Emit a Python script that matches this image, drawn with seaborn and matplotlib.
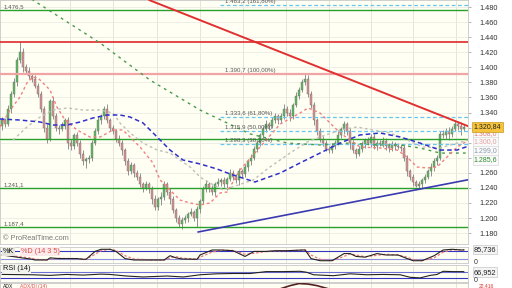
import matplotlib
matplotlib.use("Agg")
import matplotlib.pyplot as plt
import numpy as np
import pandas as pd
import seaborn as sns

sns.set_theme(style="white")
plt.rcParams['font.family'] = ['Liberation Sans', 'DejaVu Sans']

# ---------------- data ----------------
closes = [1.330, 1.325, 1.345, 1.365, 1.380, 1.410, 1.420, 1.400, 1.395, 1.388,
          1.385, 1.375, 1.365, 1.345, 1.320, 1.305, 1.355, 1.335, 1.320, 1.318,
          1.322, 1.330, 1.300, 1.295, 1.310, 1.300, 1.285, 1.275, 1.278, 1.280,
          1.300, 1.315, 1.330, 1.335, 1.345, 1.330, 1.320, 1.315, 1.305, 1.300,
          1.290, 1.275, 1.262, 1.270, 1.260, 1.255, 1.245, 1.240, 1.245, 1.238,
          1.225, 1.215, 1.225, 1.228, 1.245, 1.235, 1.225, 1.210, 1.200, 1.192,
          1.198, 1.200, 1.205, 1.208, 1.200, 1.212, 1.222, 1.238, 1.245, 1.240,
          1.235, 1.245, 1.248, 1.250, 1.245, 1.252, 1.260, 1.255, 1.250, 1.262,
          1.258, 1.268, 1.275, 1.280, 1.292, 1.300, 1.310, 1.318, 1.325, 1.322,
          1.330, 1.335, 1.330, 1.335, 1.345, 1.340, 1.335, 1.350, 1.362, 1.370,
          1.380, 1.385, 1.365, 1.350, 1.330, 1.315, 1.305, 1.300, 1.292, 1.290,
          1.296, 1.300, 1.310, 1.318, 1.325, 1.315, 1.300, 1.290, 1.285, 1.292,
          1.298, 1.303, 1.300, 1.308, 1.295, 1.300, 1.298, 1.302, 1.296, 1.293,
          1.298, 1.295, 1.294, 1.293, 1.280, 1.262, 1.255, 1.248, 1.242, 1.245,
          1.250, 1.255, 1.262, 1.268, 1.275, 1.280, 1.312, 1.310, 1.315, 1.312,
          1.318, 1.325, 1.322, 1.318, 1.32084]
first_open = 1.322
# wick lengths in thousandths
wick_up = [4, 3, 5, 4, 6, 3, 13, 5, 4, 6,
           3, 5, 4, 4, 3, 5, 3, 6, 4, 3,
           5, 3, 4, 5, 3, 4, 3, 5, 3, 4,
           3, 4, 5, 3, 4, 6, 3, 4, 3, 5,
           4, 3, 5, 4, 3, 4, 5, 3, 4, 3,
           4, 5, 3, 6, 4, 3, 5, 4, 3, 4,
           3, 4, 3, 5, 3, 4, 3, 4, 5, 3,
           4, 3, 5, 3, 4, 3, 5, 4, 3, 4,
           3, 4, 3, 5, 3, 4, 3, 4, 5, 3,
           4, 5, 3, 4, 6, 3, 4, 3, 5, 4,
           4, 6, 5, 3, 4, 3, 5, 4, 3, 4,
           3, 4, 5, 3, 4, 3, 5, 4, 3, 4,
           4, 3, 5, 4, 3, 4, 3, 5, 4, 3,
           4, 3, 4, 3, 5, 4, 3, 4, 3, 4,
           3, 4, 3, 5, 4, 3, 3, 5, 4, 6,
           4, 5, 4, 6, 3]
wick_dn = [5, 4, 3, 6, 4, 5, 4, 6, 3, 4,
           4, 3, 5, 4, 6, 5, 3, 4, 5, 6,
           3, 4, 8, 5, 4, 5, 6, 4, 8, 5,
           4, 3, 4, 5, 3, 4, 5, 3, 4, 5,
           6, 4, 5, 3, 6, 5, 4, 6, 3, 5,
           6, 4, 5, 8, 4, 5, 6, 4, 5, 4,
           6, 4, 5, 3, 4, 12, 5, 4, 3, 5,
           4, 6, 3, 5, 4, 8, 3, 5, 4, 6,
           4, 3, 5, 4, 3, 5, 4, 3, 4, 5,
           3, 4, 5, 4, 3, 5, 6, 4, 3, 4,
           3, 4, 5, 4, 6, 5, 4, 5, 3, 4,
           4, 5, 3, 4, 6, 5, 8, 4, 5, 3,
           4, 5, 3, 6, 4, 5, 3, 4, 6, 5,
           4, 5, 3, 4, 5, 6, 4, 5, 1, 4,
           5, 4, 3, 6, 5, 4, 3, 4, 5, 9,
           4, 3, 5, 8, 3]

# moving averages (vertices: candle index, price)
ma_red_x = [-0.7, 2.7, 6, 8.3, 10.3, 12, 16, 18.3, 21, 25, 29.3, 32.7, 37, 40.3, 46, 50.3,
            52.7, 56, 59.3, 62.7, 66, 69.3, 72.7, 75, 79.3, 86, 92.7, 99.3, 102, 106,
            109.3, 112.7, 116, 119.3, 126, 131.7, 135, 138.3, 141.7, 145, 148.3, 151.7, 155.5]
ma_red_y = [1.3208, 1.3433, 1.3606, 1.3791, 1.3871, 1.3858, 1.3699, 1.3473, 1.3300, 1.3168,
            1.3075, 1.3075, 1.3168, 1.3168, 1.2942, 1.2730, 1.2504, 1.2372, 1.2239, 1.2199,
            1.2173, 1.2199, 1.2332, 1.2345, 1.2637, 1.2942, 1.3247, 1.3393, 1.3460, 1.3393,
            1.3261, 1.3128, 1.3035, 1.2942, 1.2929, 1.2902, 1.2809, 1.2677, 1.2664, 1.2677,
            1.2809, 1.2942, 1.3035]
ma_grey_x = [3.7, 8.3, 12.7, 17, 21.7, 27, 32.7, 37, 39.3, 42.7, 47, 51.7, 56, 59.3, 62.7,
             66, 69.3, 73.7, 83.7, 89.3, 96, 101.7, 106, 112.7, 118.3, 123.7, 129.3, 135,
             140.3, 146, 151.7, 155.5]
ma_grey_y = [1.3035, 1.3208, 1.3340, 1.3433, 1.3460, 1.3433, 1.3433, 1.3393, 1.3261, 1.3128,
             1.2995, 1.2902, 1.2862, 1.2769, 1.2677, 1.2544, 1.2464, 1.2372, 1.2504, 1.2677,
             1.2862, 1.3009, 1.3075, 1.3168, 1.3208, 1.3168, 1.3128, 1.3035, 1.2942, 1.2929,
             1.2995, 1.3035]
ma_blue_x = [-0.7, 6, 12.7, 17, 21.7, 26, 30.3, 35, 39.3, 42.7, 47, 51.7, 56, 60.3, 66,
             71.7, 76, 84.3, 92.7, 99.3, 106, 112.7, 119.3, 126, 132.7, 139.3, 146, 151.7, 155.5]
ma_blue_y = [1.3314, 1.3300, 1.3274, 1.3234, 1.3234, 1.3274, 1.3327, 1.3367, 1.3367, 1.3340,
             1.3261, 1.3075, 1.2902, 1.2770, 1.2717, 1.2650, 1.2584, 1.2478, 1.2597, 1.2730,
             1.2862, 1.2995, 1.3102, 1.3128, 1.3075, 1.2995, 1.2902, 1.2902, 1.2955]
ma_green_x = [2.7, 10.3, 32.7, 49.3, 66, 82.7, 95, 106, 116, 126, 132.7, 139.3, 146, 155.5]
ma_green_y = [1.5159, 1.4893, 1.4322, 1.3831, 1.3433, 1.3115, 1.2995, 1.2969, 1.2995, 1.2969,
              1.2969, 1.2929, 1.2862, 1.2862]

# horizontal levels
green_levels = [1.4760, 1.3055, 1.2398, 1.1874]
red_level = 1.4340
fib_100 = 1.3907
fib_levels = [1.4832, 1.3336, 1.3159, 1.2983]
fib_labels = ["1.483,2 (161,80%)", "1.390,7 (100,00%)", "1.333,6 (61,80%)",
              "1.315,9 (50,00%)", "1.298,3 (38,20%)"]
fib_label_y = [1.4832, 1.3907, 1.3336, 1.3159, 1.2983]
left_labels = ["1.476,5", "1.241,1", "1.187,4"]
left_label_y = [1.4760, 1.2398, 1.1874]

# trend lines (endpoints)
trend_red_x = [49.0, 156.7]
trend_red_y = [1.4893, 1.3197]
trend_blue_x = [65.3, 156.7]
trend_blue_y = [1.1814, 1.2518]

# right axis ticks
price_ticks = [1.180, 1.200, 1.220, 1.240, 1.260, 1.280, 1.300, 1.320, 1.340, 1.360,
               1.380, 1.400, 1.420, 1.440, 1.460, 1.480]
hidden_ticks = [1.280, 1.300, 1.320]
value_boxes = [("1.308,0", 1.3115, '#e08080'), ("1.300,0", 1.3009, '#e0a0a0'),
               ("1.299,0", 1.2889, '#8899aa'), ("1.285,6", 1.2770, '#2a8a2a')]

# stochastic
stoch_x = [0, 10, 11, 15, 16, 19, 25, 27, 28, 31, 33, 36, 38, 41, 44, 50, 54, 56, 58, 60,
           65, 66, 70, 73, 77, 81, 84, 88, 91, 95, 100, 101, 103, 106, 110, 114, 116, 118,
           121, 125, 128, 132, 135, 137, 140, 144, 147, 150, 153, 154]
stoch_k = [50, 20, 15, 15, 30, 25, 25, 20, 20, 75, 90, 90, 75, 25, 15, 15, 15, 45, 30, 22,
           20, 50, 85, 85, 80, 40, 75, 75, 80, 80, 85, 85, 25, 10, 10, 60, 60, 40,
           35, 60, 50, 50, 25, 10, 10, 45, 85, 90, 85, 85.7]
stoch_d = [52, 28, 20, 16, 22, 27, 25, 23, 20, 55, 80, 90, 82, 45, 22, 15, 15, 30, 38, 28,
           21, 35, 70, 84, 82, 55, 62, 74, 78, 80, 83, 86, 50, 20, 11, 40, 58, 50,
           38, 48, 55, 50, 35, 18, 11, 30, 70, 86, 87, 86]
stoch_lines = [80, 20]

# RSI
rsi_x = [0, 10, 16, 21.5, 27, 33, 36, 41.5, 47, 55, 60.5, 66, 71.5, 77, 82.7, 88, 93.8,
         99.3, 101.5, 103.8, 110.4, 116, 121.6, 127, 132.7, 136, 139.3, 142.7, 145, 147,
         150.4, 153.8, 154]
rsi_v = [52, 50, 46, 52, 48, 54, 52, 42, 36, 42, 36, 50, 56, 58, 58, 70, 70,
         72, 66, 50, 44, 56, 50, 52, 50, 34, 30, 46, 52, 72, 70, 70, 67]
rsi_lines = [70, 30]

# ADX (only the top edge is visible)
adx_x = [0, 40, 90, 96, 99, 102, 105, 112, 154]
adx_v = [12, 14, 16, 27, 31, 30, 27, 16, 13]

# ---------------- figure ----------------
BG = '#fffff4'
fig = plt.figure(figsize=(5.12, 2.88), dpi=100, facecolor='white')
W, H = 512.0, 288.0
right_px = 468.0


def add_panel(top, bottom):
    return fig.add_axes([0, 1 - bottom / H, right_px / W, (bottom - top) / H])


ax = add_panel(0, 244)
ax_st = add_panel(247, 263)
ax_rsi = add_panel(265, 282)
ax_adx = add_panel(283, 300)

xlim = (-0.67, 155.3)
vgrid = [22.7, 37, 51.7, 66, 80.3, 94.7, 109, 123, 137, 151.3]

for a in (ax, ax_st, ax_rsi, ax_adx):
    a.set_facecolor(BG)
    a.set_xlim(*xlim)
    a.set_xticks([])
    for s in a.spines.values():
        s.set_color('#c8c8c8')
        s.set_linewidth(0.6)
    for gx in vgrid:
        a.axvline(gx, color='#e0e0d8', lw=0.6, zorder=0)

# ---- main panel ----
ax.set_ylim(1.1655, 1.4893)
for p in price_ticks:
    ax.axhline(p, color='#ebebe4', lw=0.6, zorder=0)

idx = np.arange(len(closes))
c = np.array(closes)
o = np.concatenate([[first_open], c[:-1]])
hi = np.maximum(o, c) + np.array(wick_up) / 1000.0
lo = np.minimum(o, c) - np.array(wick_dn) / 1000.0
df = pd.DataFrame({'i': idx, 'open': o, 'close': c, 'high': hi, 'low': lo})
up = df['close'] >= df['open']

ax.vlines(df['i'], df['low'], df['high'], color='#909090', lw=0.7, zorder=3)
body = np.maximum(np.abs(df['close'] - df['open']), 0.0008)
ax.bar(df['i'], body, bottom=np.minimum(df['open'], df['close']), width=0.72,
       color=np.where(up, '#5cb85c', '#d99090'), edgecolor='#707070', linewidth=0.3, zorder=4)

# levels
for g in green_levels:
    ax.axhline(g, color='#2ca02c', lw=1.0, zorder=5)
ax.axhline(red_level, color='#dd2a2a', lw=1.2, zorder=5)
ax.axhline(fib_100, color='#f2a3a3', lw=1.6, zorder=5)
for f in fib_levels:
    ax.plot([72.7, xlim[1]], [f, f], color='#66c6f0', lw=0.9, ls=(0, (3, 2)), zorder=5)

# moving averages
sns.lineplot(x=ma_green_x, y=ma_green_y, ax=ax, color='#4a9a4a', lw=1.0,
             linestyle=(0, (2, 3)), estimator=None, sort=False, zorder=6)
sns.lineplot(x=ma_grey_x, y=ma_grey_y, ax=ax, color='#c0c0b8', lw=1.0,
             linestyle=(0, (2, 2)), estimator=None, sort=False, zorder=6)
sns.lineplot(x=ma_red_x, y=ma_red_y, ax=ax, color='#f08080', lw=1.0,
             linestyle=(0, (2, 2)), estimator=None, sort=False, zorder=6)
sns.lineplot(x=ma_blue_x, y=ma_blue_y, ax=ax, color='#3030cc', lw=1.1,
             linestyle=(0, (3, 2)), estimator=None, sort=False, zorder=6)

# trend lines
sns.lineplot(x=trend_red_x, y=trend_red_y, ax=ax, color='#e03030', lw=1.4,
             estimator=None, sort=False, zorder=7)
sns.lineplot(x=trend_blue_x, y=trend_blue_y, ax=ax, color='#3a3ab0', lw=1.2,
             estimator=None, sort=False, zorder=7)
ax.set_xlim(*xlim)
ax.set_ylim(1.1655, 1.4893)

# labels
for txt, yv in zip(fib_labels, fib_label_y):
    ax.text(74.3, yv + 0.0012, txt, fontsize=4.4, color='#555555', va='bottom', ha='left', zorder=9)
for txt, yv in zip(left_labels, left_label_y):
    ax.text(0.5, yv + 0.0015, txt, fontsize=4.4, color='#555555', va='bottom', ha='left', zorder=9)
ax.text(0.4, 1.1685, "\u00a9 ProRealTime.com", fontsize=5.3, color='#777777', va='bottom', zorder=9)

ax.yaxis.tick_right()
ax.set_yticks(price_ticks)
ax.set_yticklabels(['' if p in hidden_ticks else f"{p:.3f}" for p in price_ticks])
ax.tick_params(axis='y', right=True, length=2, width=0.5, color='#999999',
               labelsize=5.3, labelcolor='#333333', pad=6)
ax.set_ylabel('')
ax.set_xlabel('')

ytr = ax.get_yaxis_transform()
for txt, yv, col in value_boxes:
    ax.text(1.012, yv, txt, transform=ytr, fontsize=5.0, color=col, va='center', ha='left',
            bbox=dict(boxstyle='square,pad=0.15', fc='#fafafa', ec='#d0d0d0', lw=0.4), clip_on=False)
ax.text(1.012, 1.32084, "1.320,84", transform=ytr, fontsize=5.0, color='#222222', va='center',
        ha='left', bbox=dict(boxstyle='square,pad=0.2', fc='#f5c43c', ec='#c89a20', lw=0.5), clip_on=False)

# ---- stochastic ----
ax_st.set_ylim(-6, 106)
for lv, colr in zip(stoch_lines, ['#3535c0', '#8c8ce0']):
    ax_st.axhline(lv, color=colr, lw=0.8, zorder=2)
sns.lineplot(x=stoch_x, y=stoch_d, ax=ax_st, color='#ee7777', lw=0.9,
             linestyle=(0, (2, 1.5)), estimator=None, sort=False, zorder=3)
sns.lineplot(x=stoch_x, y=stoch_k, ax=ax_st, color='#222222', lw=0.8,
             estimator=None, sort=False, zorder=4)
ax_st.set_xlim(*xlim)
ax_st.set_yticks([])
ax_st.set_ylabel('')
ax_st.text(0.006, 0.72, "%K", transform=ax_st.transAxes, fontsize=5.2, color='#111111',
           va='center', ha='left', zorder=9,
           bbox=dict(boxstyle='square,pad=0.1', fc='#e6e6de', ec='none'))
ax_st.text(0.044, 0.72, "%D (14 3 5)", transform=ax_st.transAxes, fontsize=5.2, color='#e05050',
           va='center', ha='left', zorder=9,
           bbox=dict(boxstyle='square,pad=0.1', fc='#fbeaea', ec='none'))
ax_st.text(1.012, 85.736, "85,736", transform=ax_st.get_yaxis_transform(), fontsize=5.3,
           color='#222222', va='center', ha='left', clip_on=False,
           bbox=dict(boxstyle='square,pad=0.15', fc='#f4f4f4', ec='#bbbbbb', lw=0.4))
ax_st.text(1.012, 0, "0", transform=ax_st.get_yaxis_transform(), fontsize=5.0,
           color='#333333', va='center', ha='left', clip_on=False)

# ---- RSI ----
ax_rsi.set_ylim(4, 112)
for lv, colr in zip(rsi_lines, ['#7070d8', '#3535c0']):
    ax_rsi.axhline(lv, color=colr, lw=0.8, zorder=2)
sns.lineplot(x=rsi_x, y=rsi_v, ax=ax_rsi, color='#222222', lw=0.8,
             estimator=None, sort=False, zorder=4)
ax_rsi.set_xlim(*xlim)
ax_rsi.set_yticks([])
ax_rsi.set_ylabel('')
ax_rsi.text(0.006, 0.8, "RSI (14)", transform=ax_rsi.transAxes, fontsize=5.3, color='#111111',
            va='center', ha='left', zorder=9,
            bbox=dict(boxstyle='square,pad=0.1', fc='#f4f4ee', ec='none'))
ax_rsi.text(1.012, 66.952, "66,952", transform=ax_rsi.get_yaxis_transform(), fontsize=5.3,
            color='#222222', va='center', ha='left', clip_on=False,
            bbox=dict(boxstyle='square,pad=0.15', fc='#f4f4f4', ec='#bbbbbb', lw=0.4))
ax_rsi.text(1.012, 12, "0", transform=ax_rsi.get_yaxis_transform(), fontsize=5.0,
            color='#333333', va='center', ha='left', clip_on=False)

# ---- ADX (cut off) ----
ax_adx.set_ylim(0, 32)
sns.lineplot(x=adx_x, y=adx_v, ax=ax_adx, color='#552222', lw=1.2,
             estimator=None, sort=False, zorder=4)
ax_adx.set_xlim(*xlim)
ax_adx.set_yticks([])
ax_adx.set_ylabel('')
fig.text(0.006, 1 - 283.6 / H, "ADX", fontsize=3.6, color='#111111', va='top', ha='left')
fig.text(0.040, 1 - 283.6 / H, "ADX/DI (14)", fontsize=3.6, color='#e05050', va='top', ha='left')
fig.text(0.935, 1 - 283.6 / H, "22,416", fontsize=3.6, color='#e03030', va='top', ha='left')

fig.savefig("out.png", dpi=100, facecolor='white')
